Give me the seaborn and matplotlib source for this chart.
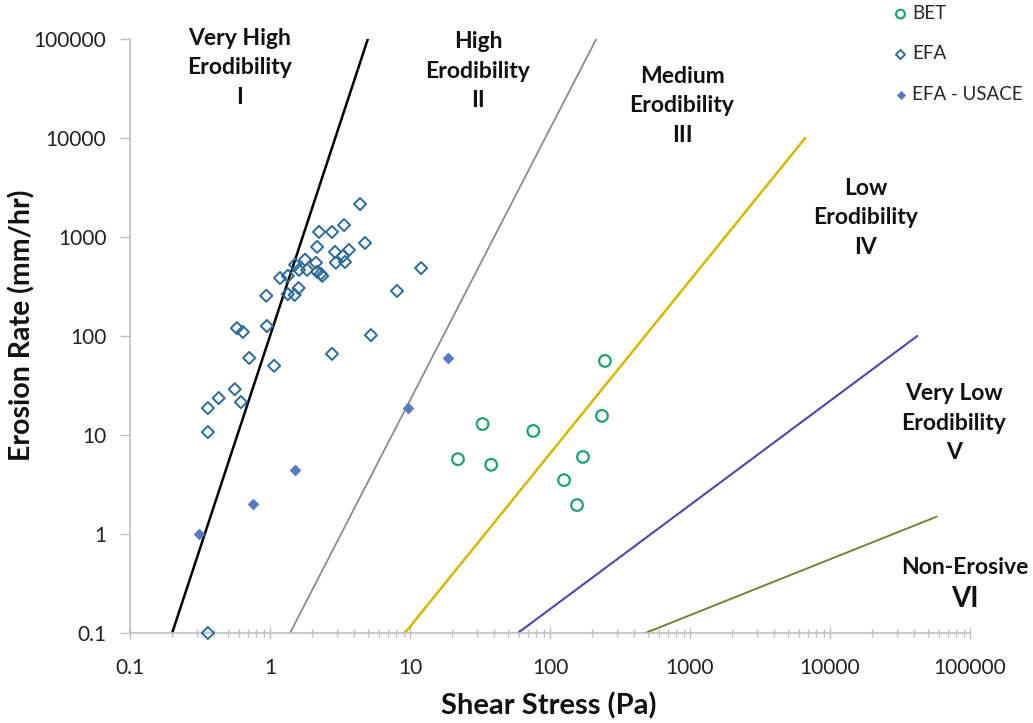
import numpy as np
import pandas as pd
import matplotlib
matplotlib.use("Agg")
import matplotlib.pyplot as plt
import seaborn as sns
from matplotlib.ticker import FuncFormatter, LogLocator, NullLocator

# ---------------- data ----------------
bet_x = [247, 235, 33, 76, 22, 38, 172, 126, 156]
bet_y = [56, 15.6, 12.9, 11, 5.7, 5.0, 6.0, 3.5, 1.96]

efa_x = [4.4, 2.24, 2.77, 3.38, 4.77, 2.17, 2.91, 3.66, 3.33, 2.95,
         3.43, 2.13, 2.17, 2.30, 2.36, 1.78, 1.51, 1.61, 1.84, 1.34,
         1.18, 1.60, 1.50, 1.34, 0.94, 12.0, 8.07, 0.58, 0.64, 0.95,
         5.26, 0.71, 1.07, 2.77, 0.56, 0.43, 0.36, 0.62, 0.36, 0.36]
efa_y = [2150, 1125, 1125, 1320, 870, 795, 707, 740, 645, 550,
         560, 550, 445, 425, 405, 590, 525, 465, 465, 405,
         385, 305, 260, 265, 255, 485, 285, 120, 110, 126,
         102, 60, 50, 66, 29, 23.6, 18.7, 21.5, 10.7, 0.1]

usace_x = [18.7, 9.7, 1.51, 0.76, 0.31]
usace_y = [60, 18.7, 4.4, 2.0, 1.0]

# category boundary lines (endpoints)
line_names = ["I/II", "II/III", "III/IV", "IV/V", "V/VI"]
line_x = [[0.2, 5], [1.39, 214], [9.2, 6650], [59, 42000], [480, 58000]]
line_y = [[0.1, 100000], [0.1, 100000], [0.1, 10000], [0.1, 100], [0.1, 1.5]]

tick_vals = [0.1, 1, 10, 100, 1000, 10000, 100000]

zone_labels = ["Very High\nErodibility\nI", "High\nErodibility\nII",
               "Medium\nErodibility\nIII", "Low\nErodibility\nIV",
               "Very Low\nErodibility\nV"]

# ---------------- styling ----------------
sns.set_theme(style="white")
plt.rcParams['font.family'] = ['Lato', 'DejaVu Sans']

W, H = 1033, 723
fig = plt.figure(figsize=(W / 100, H / 100), dpi=100)
ax = fig.add_axes([130 / W, 1 - 633 / H, 840 / W, 594 / H])
ax.set_xscale('log')
ax.set_yscale('log')

line_colors = ["#000000", "#8C8C8C", "#D2B800", "#4A4AA6", "#6F7A2C"]
line_widths = [1.8, 1.3, 1.8, 1.5, 1.3]
for xs, ys, c, lw in zip(line_x, line_y, line_colors, line_widths):
    sns.lineplot(x=xs, y=ys, ax=ax, color=c, lw=lw, estimator=None,
                 sort=False, legend=False)

df_bet = pd.DataFrame({"x": bet_x, "y": bet_y})
df_efa = pd.DataFrame({"x": efa_x, "y": efa_y})
df_us = pd.DataFrame({"x": usace_x, "y": usace_y})

sns.scatterplot(data=df_bet, x="x", y="y", ax=ax, marker='o', s=70,
                facecolor='none', edgecolor='#22A070', linewidth=1.6,
                label="BET", clip_on=False, zorder=5)
sns.scatterplot(data=df_efa, x="x", y="y", ax=ax, marker='D', s=38,
                facecolor='none', edgecolor='#2F6A96', linewidth=1.4,
                label="EFA", clip_on=False, zorder=5)
sns.scatterplot(data=df_us, x="x", y="y", ax=ax, marker='D', s=30,
                color='#5B78BE', edgecolor='#5B78BE', linewidth=0.5,
                label="EFA - USACE", clip_on=False, zorder=5)

ax.set_xlim(0.1, 100000)
ax.set_ylim(0.1, 100000)
fmt = FuncFormatter(lambda v, p: f"{v:g}")
ax.set_xticks(tick_vals)
ax.set_yticks(tick_vals)
ax.xaxis.set_major_formatter(fmt)
ax.yaxis.set_major_formatter(fmt)
ax.xaxis.set_minor_locator(LogLocator(base=10, subs=np.arange(2, 10)))
ax.xaxis.set_minor_formatter(FuncFormatter(lambda v, p: ""))
ax.yaxis.set_minor_locator(NullLocator())

for s in ['top', 'right']:
    ax.spines[s].set_visible(False)
for s in ['left', 'bottom']:
    ax.spines[s].set_color('#BFBFBF')
    ax.spines[s].set_linewidth(1.2)

ax.tick_params(axis='y', which='major', direction='out', length=7, width=1,
               color='#BFBFBF', pad=10, labelsize=15, labelcolor='#222222', left=True)
ax.tick_params(axis='x', which='major', direction='inout', length=8, width=1,
               color='#BFBFBF', pad=14, labelsize=15, labelcolor='#222222', bottom=True)
ax.tick_params(axis='x', which='minor', direction='inout', length=6, width=1,
               color='#BFBFBF', bottom=True)

ax.set_xlabel("")
ax.set_ylabel("")
fig.text(549 / W, 1 - 706 / H, "Shear Stress (Pa)", ha='center', va='center',
         fontsize=21, fontweight='bold', color='#111111')
fig.text(22 / W, 1 - 325 / H, "Erosion Rate (mm/hr)", ha='center', va='center',
         rotation=90, fontsize=20.5, fontweight='bold', color='#111111')

zone_pos = [(240, 68), (478, 71), (682, 106), (866, 218), (954, 423)]
for lab, (px, py) in zip(zone_labels, zone_pos):
    fig.text(px / W, 1 - py / H, lab, ha='center', va='center', fontsize=16.5,
             fontweight='bold', color='#111111', linespacing=1.5)
fig.text(965 / W, 1 - 568 / H, "Non-Erosive", ha='center', va='center',
         fontsize=16.5, fontweight='bold', color='#111111')
fig.text(965 / W, 1 - 599 / H, "VI", ha='center', va='center',
         fontsize=20, fontweight='bold', color='#111111')

ax.legend(loc='upper left', bbox_to_anchor=(893 / W, 1 - 5 / H),
          bbox_transform=fig.transFigure, frameon=False, fontsize=13.5,
          labelspacing=1.25, handletextpad=0.2, markerscale=0.75,
          borderaxespad=0, handlelength=0.8, borderpad=0)

fig.savefig("out.png", dpi=100)
